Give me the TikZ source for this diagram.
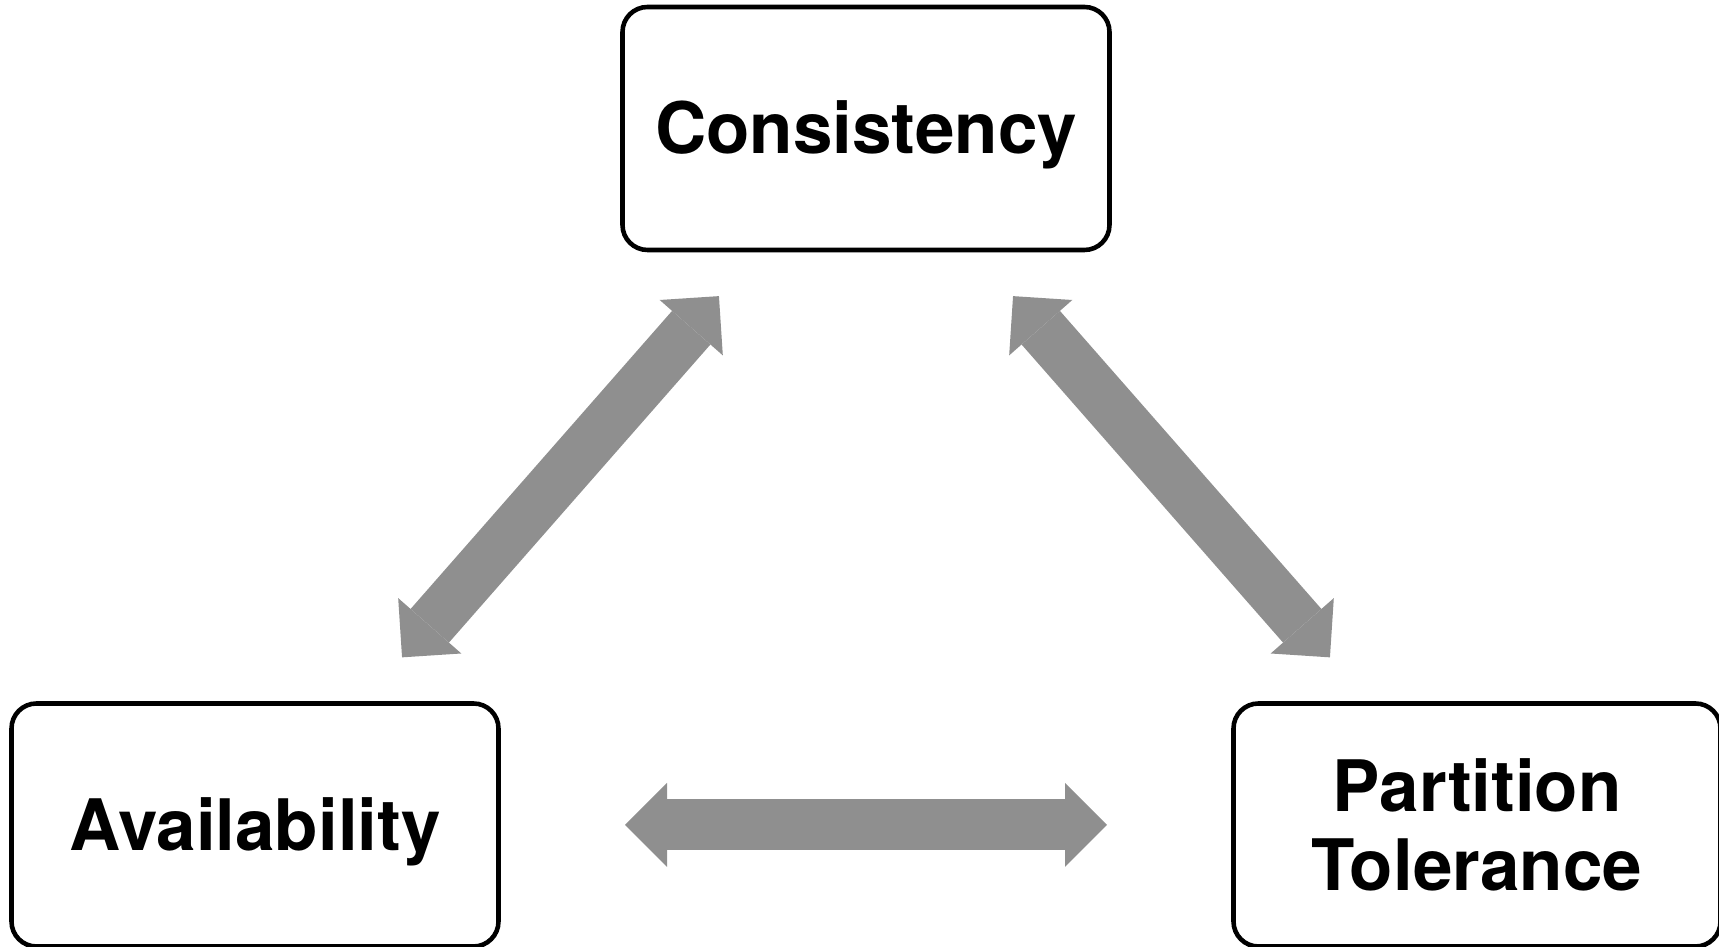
\documentclass[tikz,border=0pt]{standalone}
\usepackage{fontspec}
\setmainfont{TeX Gyre Heros}
\usetikzlibrary{arrows.meta}

\definecolor{arrowgray}{HTML}{8F8F8F}

\begin{document}
\begin{tikzpicture}[
    capbox/.style={draw, line width=1.3pt, rounded corners=0.25cm,
        minimum width=4.87cm, minimum height=2.43cm, inner sep=0pt,
        font=\fontsize{20.2}{22.3}\selectfont\bfseries},
    oneline/.style={text height=0.51cm, text depth=0pt},
    bigarrow/.style={arrowgray, line width=0.51cm,
        {Triangle[length=0.42cm, width=0.84cm, line width=0pt]}-{Triangle[length=0.42cm, width=0.84cm, line width=0pt]}}
]

    % Fix the page size to the reference proportions
    \useasboundingbox (0,0) rectangle (17.19,9.47);

    % The three corners of the CAP triangle
    \node[capbox, oneline] (cons) at (8.66,8.185) {Consistency};
    \node[capbox, oneline] (avail) at (2.55,1.22) {Availability};
    \node[capbox, align=center] (part) at (14.77,1.22) {Partition\\Tolerance};

    % Double arrows between the corners
    \draw[bigarrow, shorten <=2.23cm, shorten >=2.23cm] (cons.center) -- (avail.center);
    \draw[bigarrow, shorten <=2.23cm, shorten >=2.23cm] (cons.center) -- (part.center);
    \draw[bigarrow, shorten <=3.70cm, shorten >=3.70cm] (avail.center) -- (part.center);

\end{tikzpicture}
\end{document}
